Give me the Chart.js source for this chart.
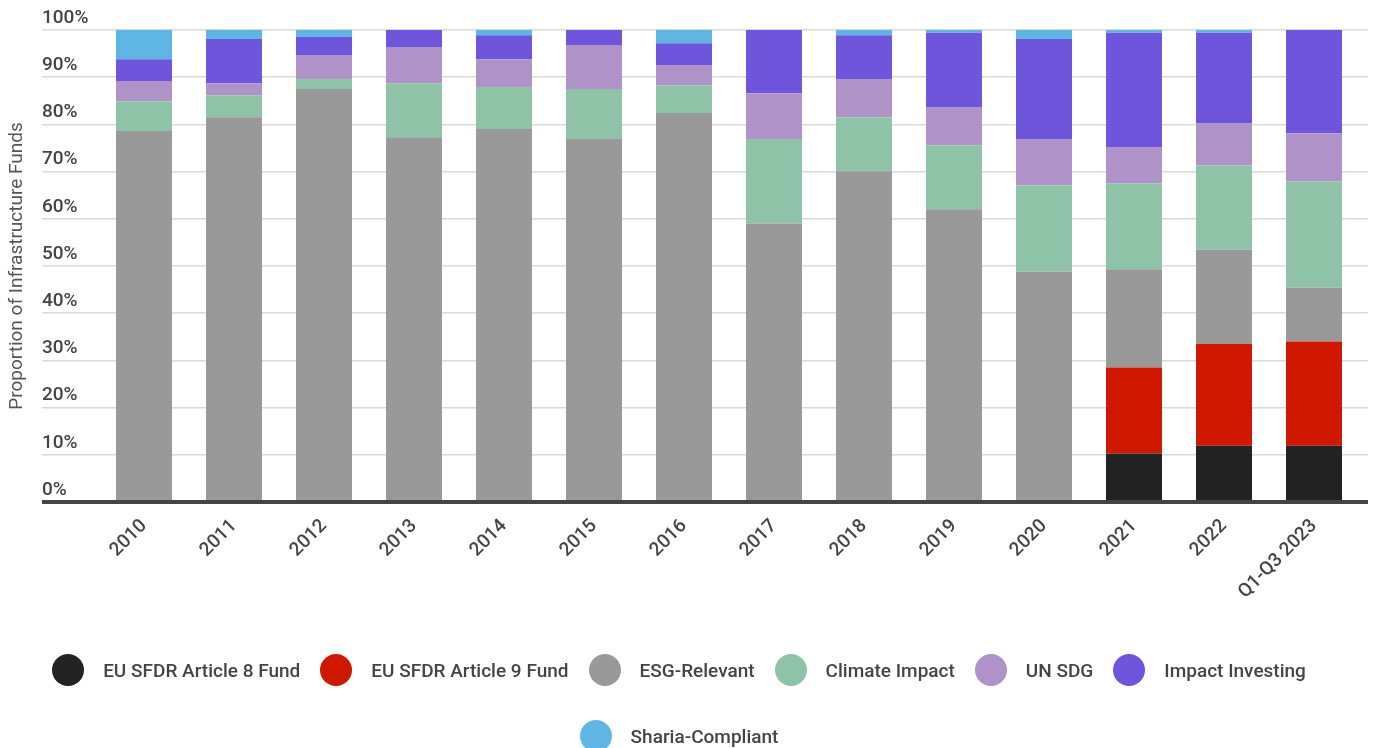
<!DOCTYPE html>
<html>
<head>
<meta charset="utf-8">
<script src="https://cdn.jsdelivr.net/npm/chart.js@4.4.0/dist/chart.umd.min.js"></script>
<style>
  body { margin: 0; background: #fff; overflow: hidden; }
  #wrap { position: relative; width: 1374px; height: 748px; }
  #legend {
    position: absolute; left: 0; top: 654px; width: 1358px;
    display: flex; flex-wrap: wrap; justify-content: center;
    column-gap: 20px; row-gap: 34px;
    font-family: Roboto, sans-serif; font-size: 19px; font-weight: 500; color: #444;
  }
  .item { display: flex; align-items: center; height: 32px; white-space: nowrap; }
  .dot { width: 32px; height: 32px; border-radius: 50%; margin-right: 19px; }
</style>
</head>
<body>
<div id="wrap">
  <canvas id="chart" width="1374" height="748"></canvas>
  <div id="legend"></div>
</div>
<script>
const years = ['2010', '2011', '2012', '2013', '2014', '2015', '2016', '2017', '2018', '2019', '2020', '2021', '2022', 'Q1-Q3 2023'];

// share of funds per year, in percent
const article8 = [0, 0, 0, 0, 0, 0, 0, 0, 0, 0, 0, 10.3, 11.9, 11.9];
const article9 = [0, 0, 0, 0, 0, 0, 0, 0, 0, 0, 0, 18.2, 21.6, 22.1];
const esgRelevant = [78.6, 81.5, 87.5, 77.3, 79.0, 76.9, 82.4, 59.0, 70.1, 62.0, 48.8, 20.8, 20.0, 11.4];
const climateImpact = [6.3, 4.7, 2.1, 11.4, 8.9, 10.6, 5.9, 17.9, 11.4, 13.6, 18.3, 18.2, 17.8, 22.5];
const unSdg = [4.3, 2.5, 5.1, 7.7, 5.9, 9.3, 4.3, 9.7, 8.1, 8.1, 9.8, 7.7, 9.0, 10.2];
const impactInvesting = [4.6, 9.4, 3.8, 3.6, 5.1, 3.2, 4.6, 13.4, 9.3, 15.7, 21.2, 24.2, 19.1, 21.9];
const shariaCompliant = [6.2, 1.9, 1.5, 0, 1.1, 0, 2.8, 0, 1.1, 0.6, 1.9, 0.6, 0.6, 0];

const AXIS = '#444';
const GRID = '#dadada';

Chart.defaults.font.family = 'Roboto, sans-serif';

const lineColor = (ctx) => (ctx.tick && ctx.tick.value === 0 ? AXIS : GRID);
const lineWidth = (ctx) => (ctx.tick && ctx.tick.value === 0 ? 4 : 1.5);

// legend drawn as html below the canvas
const htmlLegend = {
  id: 'htmlLegend',
  afterUpdate(chart) {
    const box = document.getElementById('legend');
    box.innerHTML = '';
    chart.data.datasets.forEach((ds) => {
      const item = document.createElement('div');
      item.className = 'item';
      const dot = document.createElement('span');
      dot.className = 'dot';
      dot.style.background = ds.backgroundColor;
      const text = document.createElement('span');
      text.textContent = ds.label;
      item.appendChild(dot);
      item.appendChild(text);
      box.appendChild(item);
    });
  }
};

new Chart(document.getElementById('chart'), {
  type: 'bar',
  data: {
    labels: years,
    datasets: [
      { label: 'EU SFDR Article 8 Fund', data: article8, backgroundColor: '#222222' },
      { label: 'EU SFDR Article 9 Fund', data: article9, backgroundColor: '#d01800' },
      { label: 'ESG-Relevant', data: esgRelevant, backgroundColor: '#999999' },
      { label: 'Climate Impact', data: climateImpact, backgroundColor: '#8fc3a7' },
      { label: 'UN SDG', data: unSdg, backgroundColor: '#ae92c8' },
      { label: 'Impact Investing', data: impactInvesting, backgroundColor: '#6e55dc' },
      { label: 'Sharia-Compliant', data: shariaCompliant, backgroundColor: '#5fb6e4' }
    ]
  },
  options: {
    responsive: false,
    animation: false,
    layout: { padding: { top: 30, right: 6, left: 0, bottom: 0 } },
    datasets: { bar: { categoryPercentage: 1, barPercentage: 0.622, borderWidth: 0 } },
    plugins: { legend: { display: false }, tooltip: { enabled: false } },
    scales: {
      x: {
        stacked: true,
        z: 1,
        grid: { display: false },
        border: { display: true, color: AXIS, width: 4 },
        ticks: {
          color: AXIS, font: { size: 19, weight: '500' },
          maxRotation: 45, minRotation: 45, padding: 5
        },
        afterFit: (scale) => { scale.height = 246; }
      },
      y: {
        stacked: true,
        min: 0, max: 100,
        weight: 0,
        border: { display: false },
        grid: { color: lineColor, tickColor: lineColor, lineWidth: lineWidth, tickLength: 57 },
        ticks: {
          stepSize: 10, crossAlign: 'far', labelOffset: -12,
          color: AXIS, font: { size: 19, weight: '500' },
          callback: (v) => v + '%'
        },
        afterFit: (scale) => { scale.width = 57; }
      },
      yTitle: {
        type: 'linear',
        position: 'left',
        weight: 1,
        border: { display: false },
        grid: { display: false },
        ticks: { display: false },
        title: {
          display: true, text: 'Proportion of Infrastructure Funds',
          color: '#555', font: { size: 19 }, padding: { top: 6, bottom: 0 }
        },
        afterFit: (scale) => { scale.width = 42; }
      },
      yRight: {
        type: 'linear',
        position: 'right',
        min: 0, max: 100,
        border: { display: false },
        grid: { drawOnChartArea: false, color: lineColor, tickColor: lineColor, lineWidth: lineWidth, tickLength: 9 },
        ticks: { display: false, stepSize: 10 },
        afterFit: (scale) => { scale.width = 9; }
      }
    }
  },
  plugins: [htmlLegend]
});
</script>
</body>
</html>
